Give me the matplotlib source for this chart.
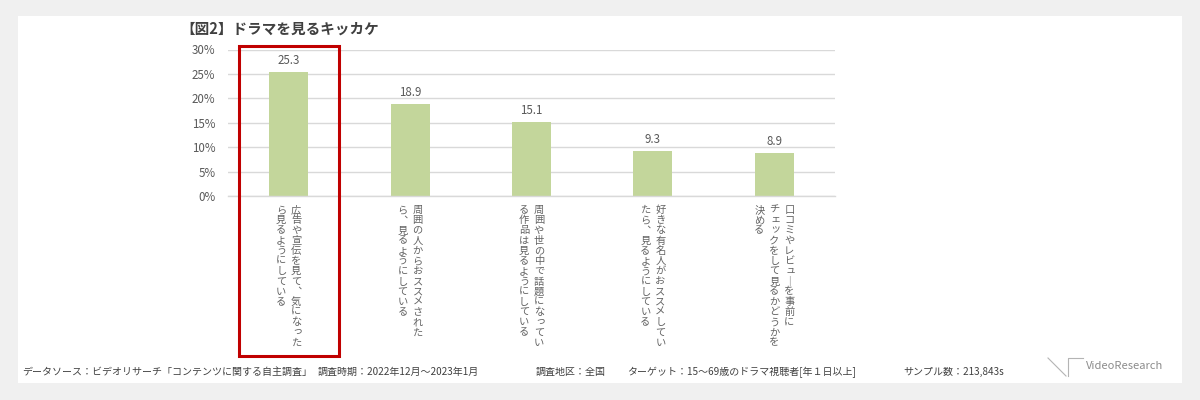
import matplotlib.pyplot as plt
import matplotlib.transforms as mtransforms
from matplotlib.patches import Rectangle
from matplotlib.lines import Line2D

plt.rcParams['font.family'] = ['Noto Sans CJK JP', 'DejaVu Sans']

# Data
values = [25.3, 18.9, 15.1, 9.3, 8.9]
# each label is written vertically, columns read right to left
labels = [
    ["広告や宣伝を見て、気になった", "ら見るようにしている"],
    ["周囲の人からおススメされた", "ら、見るようにしている"],
    ["周囲や世の中で話題になってい", "る作品は見るようにしている"],
    ["好きな有名人がおススメしてい", "たら、見るようにしている"],
    ["口コミやレビューを事前に", "チェックをして見るかどうかを", "決める"],
]
y_ticks = [0, 5, 10, 15, 20, 25, 30]
title = "【図2】ドラマを見るキッカケ"
footer_parts = [
    "データソース：ビデオリサーチ「コンテンツに関する自主調査」",
    "調査時期：2022年12月～2023年1月",
    "調査地区：全国",
    "ターゲット：15～69歳のドラマ視聴者[年１日以上]",
    "サンプル数：213,843s",
]
footer_x = [22, 318, 536, 627, 903]
highlight = 0

bar_color = '#c3d69b'
text_gray = '#595959'
grid_gray = '#d9d9d9'

fig = plt.figure(figsize=(12, 4), dpi=100, facecolor='#f0f0f0')

# white panel (behind the axes)
fig.patches.append(Rectangle((18 / 1200, 17 / 400), 1164 / 1200, 367 / 400,
                             transform=fig.transFigure, facecolor='white',
                             edgecolor='none', zorder=-5))

ax = fig.add_axes([228 / 1200, 204 / 400, 607 / 1200, 146.5 / 400])
ax.set_facecolor('none')

x = list(range(len(values)))
ax.bar(x, values, width=0.32, color=bar_color, zorder=2)
ax.set_xlim(-0.5, len(values) - 0.5)
ax.set_ylim(0, 30)
ax.set_yticks(y_ticks)
ax.set_yticklabels([f"{t}%" for t in y_ticks], fontsize=8.3, color=text_gray)
ax.tick_params(axis='y', length=0, pad=9)
ax.set_xticks([])
ax.grid(axis='y', color=grid_gray, linewidth=1, zorder=0)
ax.set_axisbelow(True)
for s in ['top', 'right', 'left']:
    ax.spines[s].set_visible(False)
ax.spines['bottom'].set_color(grid_gray)
ax.spines['bottom'].set_linewidth(1)

# value labels
for i, v in enumerate(values):
    ax.annotate(f"{v:.1f}", (i, v), xytext=(0, 5), textcoords='offset pixels',
                ha='center', va='bottom', fontsize=8.3, color=text_gray)

# vertical category labels, one character at a time
small_kana = set('ぁぃぅぇぉっゃゅょァィゥェォッャュョ')
swap = {'、': '︑', 'ー': '｜'}
pitch = 10.2
col_gap = 15
top = 9
for i, cols in enumerate(labels):
    n = len(cols)
    for j, col in enumerate(cols):
        dx = ((n - 1) / 2 - j) * col_gap
        for k, ch in enumerate(col):
            dy = -(top + pitch * (k + 0.5))
            ox, oy = 0, 0
            if ch in small_kana:
                ox, oy = 1.5, 1.5
            ax.annotate(swap.get(ch, ch), (i, 0), xytext=(dx + ox, dy + oy),
                        textcoords='offset pixels', ha='center', va='center',
                        fontsize=7.4, color='#636363', annotation_clip=False)

# red box around the top item
trans = mtransforms.blended_transform_factory(ax.transData, fig.transFigure)
fig.patches.append(Rectangle((highlight - 0.412, 44 / 400), 0.824, 310 / 400,
                             transform=trans, facecolor='none',
                             edgecolor='#c00000', linewidth=2.2, zorder=5))

# title
fig.text(180 / 1200, (400 - 29) / 400, title, fontsize=10.5, fontweight='bold',
         color='#404040', ha='left', va='center')

# footer
for fx, part in zip(footer_x, footer_parts):
    fig.text(fx / 1200, (400 - 372) / 400, part, fontsize=7.2, color='#404040',
             ha='left', va='center')

# logo
logo_gray = '#b4b4b4'
fig.lines.append(Line2D([1048 / 1200, 1066 / 1200], [(400 - 358) / 400, (400 - 376) / 400],
                        transform=fig.transFigure, color=logo_gray, linewidth=0.8))
fig.lines.append(Line2D([1068 / 1200, 1068 / 1200, 1083 / 1200],
                        [(400 - 376) / 400, (400 - 358) / 400, (400 - 358) / 400],
                        transform=fig.transFigure, color=logo_gray, linewidth=0.8))
fig.text(1086 / 1200, (400 - 366) / 400, "VideoResearch", fontsize=8,
         color='#8c8c8c', ha='left', va='center')

fig.savefig('out.png', dpi=100, facecolor=fig.get_facecolor())
